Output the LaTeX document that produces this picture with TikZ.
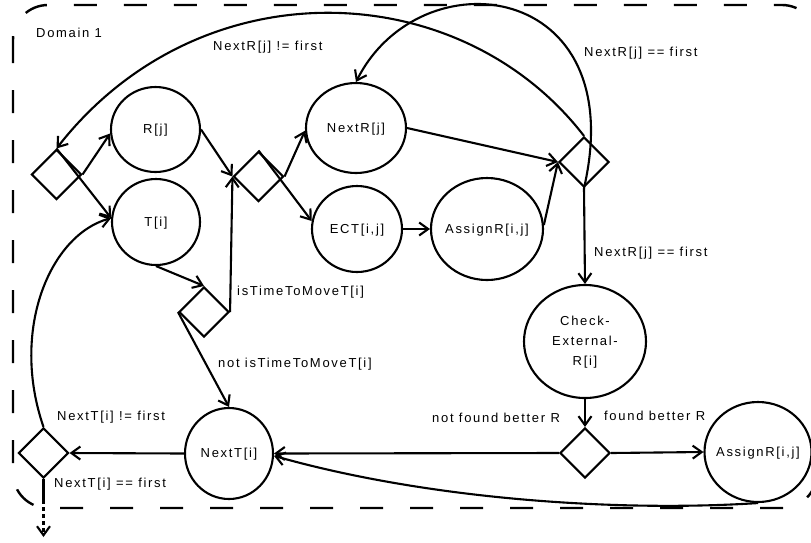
\documentclass[tikz,border=0pt]{standalone}
\usepackage{fontspec}
\setmainfont{Liberation Sans}[LetterSpace=13]
\usetikzlibrary{shapes.geometric,arrows.meta}

% centred text that does not widen its node
\newcommand{\ctr}[1]{\makebox[0pt]{\begin{tabular}{@{}c@{}}#1\end{tabular}}}

\begin{document}
\begin{tikzpicture}[x=1pt,y=-1pt,
  every node/.style={font=\fontsize{13}{20}\selectfont},
  activity/.style={ellipse,draw,line width=2.1pt,inner sep=0pt},
  choice/.style={diamond,draw,line width=2.1pt,minimum width=50pt,minimum height=50pt,inner sep=0pt},
  flow/.style={line width=2.1pt,-{Straight Barb[length=9pt,width=13pt]}},
  solidline/.style={line width=2.1pt},
  lbl/.style={inner sep=0pt,anchor=base west},
  frameline/.style={line width=2.4pt,dash pattern=on 23pt off 27pt,rounded corners=35pt},
]
\useasboundingbox (0,0) rectangle (811,542);

% domain frame
\draw[frameline] (13,5) rectangle (817,508);
\node[lbl] (dom) at (36,37) {Domain 1};

% activities
\node[activity,minimum width=89pt,minimum height=85pt]  (Rj)  at (155.5,129.5) {\ctr{R[j]}};
\node[activity,minimum width=88pt,minimum height=86pt]  (Ti)  at (156,222)     {\ctr{T[i]}};
\node[activity,minimum width=100pt,minimum height=90pt] (NR)  at (356,128)     {\ctr{NextR[j]}};
\node[activity,minimum width=90pt,minimum height=86pt]  (ECT) at (357,229)     {\ctr{ECT[i,j]}};
\node[activity,minimum width=112pt,minimum height=102pt](AR1) at (487,229)     {\ctr{AssignR[i,j]}};
\node[activity,minimum width=122pt,minimum height=113pt](CE)  at (585,341.5)   {\ctr{Check-\\External-\\R[i]}};
\node[activity,minimum width=107pt,minimum height=100pt](AR2) at (758,452)     {\ctr{AssignR[i,j]}};
\node[activity,minimum width=88pt,minimum height=91pt]  (NT)  at (229,453.5)   {\ctr{NextT[i]}};

% decisions
\node[choice] (D1) at (56.5,174.5) {};
\node[choice] (D2) at (258.5,176.5) {};
\node[choice] (D3) at (204,312) {};
\node[choice] (D4) at (584,162) {};
\node[choice] (D5) at (585,453) {};
\node[choice] (D6) at (43.5,453) {};

\coordinate (exitA) at (43.5,500);
\coordinate (exitB) at (43.5,537);

% flows
\draw[flow] (D1.east) -- (Rj.185);
\draw[flow] (D1.north) -- (Ti.175);
\draw[flow] (Rj.east) -- (D2.west);
\draw[flow] (Ti.south) -- (D3.north);
\draw[flow] (D3.east) -- (D2.west);
\draw[flow] (D3.west) -- (NT.north);
\draw[flow] (D2.east) -- (NR.183);
\draw[flow] (D2.north) -- (ECT.170);
\draw[flow] (ECT.east) -- (AR1.west);
\draw[flow] (NR.east) -- (D4.west);
\draw[flow] (AR1.4) -- (D4.west);
\draw[flow] (D4.north) .. controls (460,-25) and (200,-35) .. (D1.north);
\draw[flow] (D4.south) .. controls (632,-20) and (420,-45) .. (NR.north);
\draw[flow] (D4.south) -- (CE.north);
\draw[flow] (CE.south) -- (D5.north);
\draw[flow] (D5.east) -- (AR2.west);
\draw[flow] (D5.west) -- (NT.east);
\draw[flow] (AR2.south) .. controls (620,512) and (430,500) .. (NT.-3);
\draw[flow] (NT.west) -- (D6.east);
\draw[flow] (D6.north) .. controls (10,330) and (50,235) .. (Ti.175);
\draw[solidline] (D6.south) -- (exitA);
\draw[flow,dash pattern=on 4pt off 3pt] (exitA) -- (exitB);

% guards
\node[lbl] (l1) at (213,50.5)  {NextR[j] != first};
\node[lbl] (l2) at (584,56.5)  {NextR[j] == first};
\node[lbl] (l3) at (594,256.5) {NextR[j] == first};
\node[lbl] (l4) at (237,295.5) {isTimeToMoveT[i]};
\node[lbl] (l5) at (218,367.5) {not isTimeToMoveT[i]};
\node[lbl] (l6) at (432,422.5) {not found better R};
\node[lbl] (l7) at (604,420.5) {found better R};
\node[lbl] (l8) at (57,420.5)  {NextT[i] != first};
\node[lbl] (l9) at (54,487.5)  {NextT[i] == first};
\end{tikzpicture}
\end{document}
